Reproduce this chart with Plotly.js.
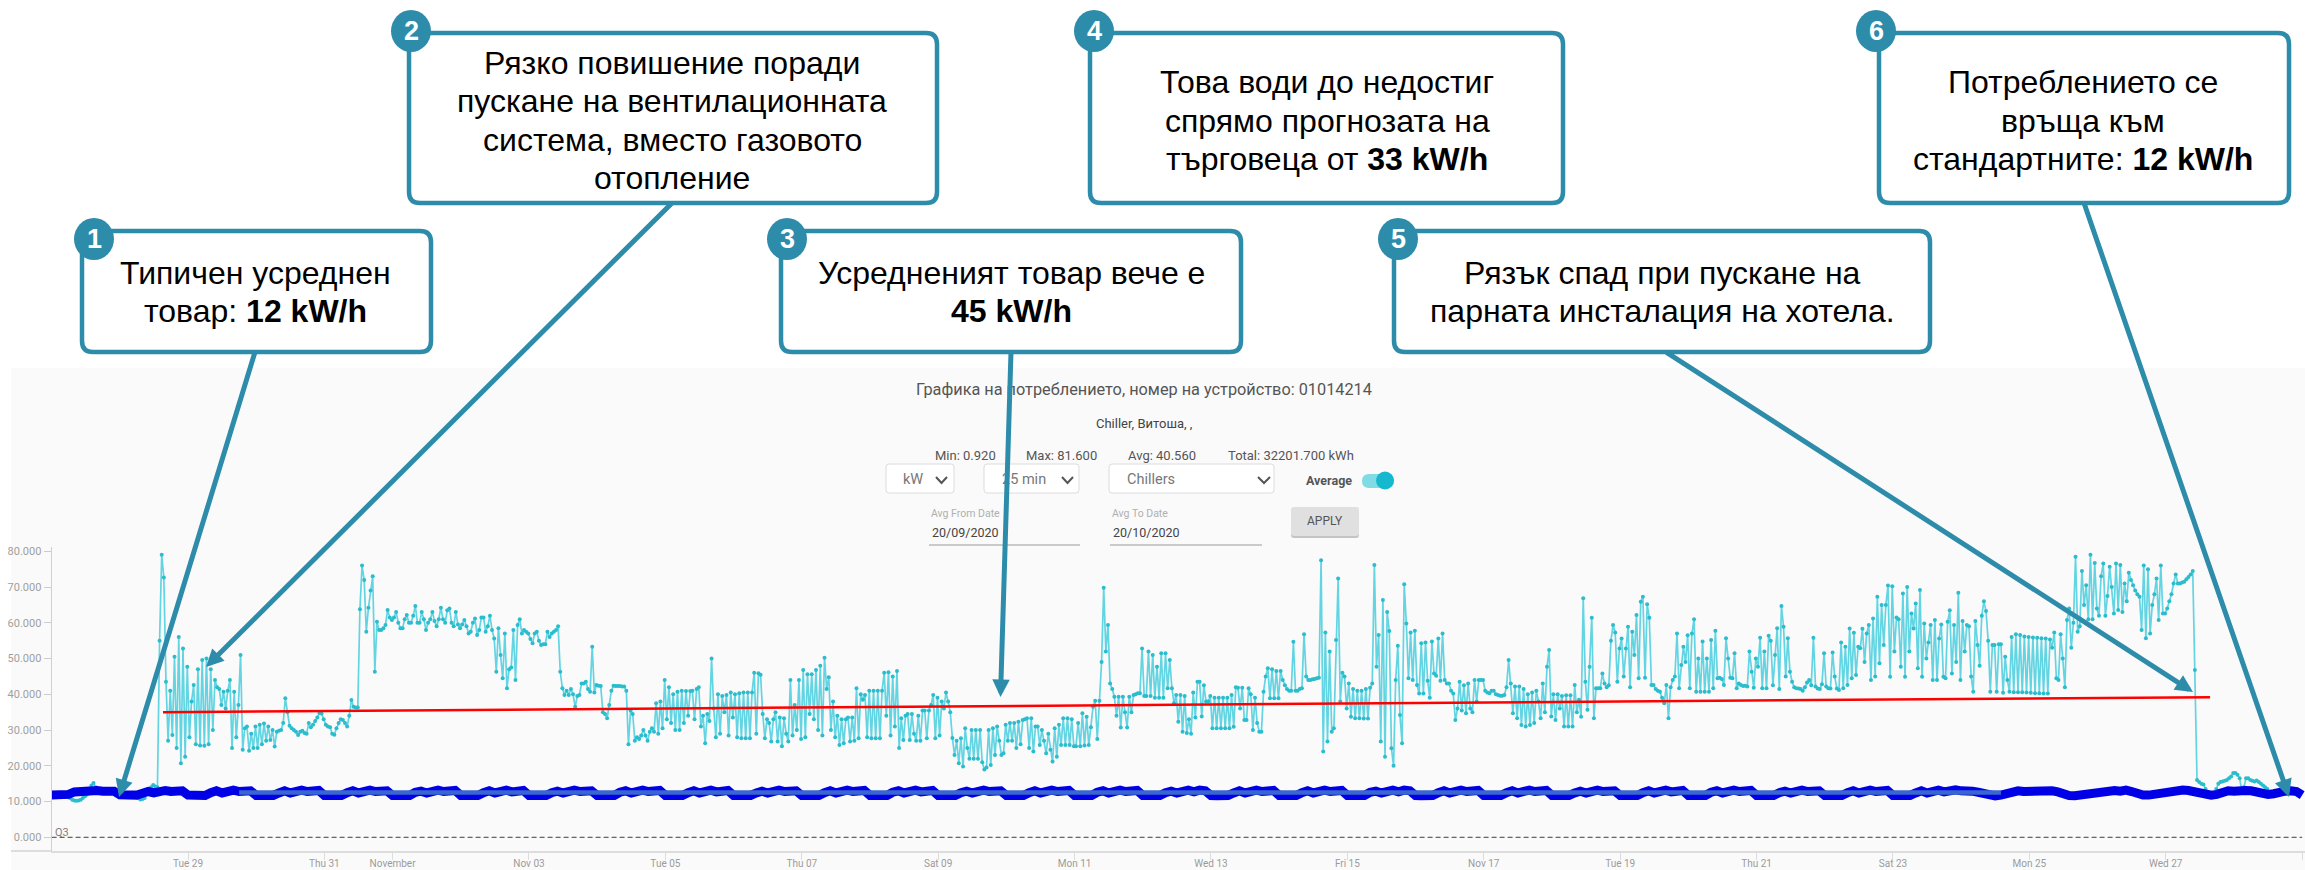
<!DOCTYPE html>
<html><head><meta charset="utf-8">
<script src="https://cdn.plot.ly/plotly-3.0.1.min.js"></script>
<style>html,body{margin:0;padding:0;background:#fff;overflow:hidden}#c{width:2305px;height:870px}</style>
</head><body><div id="c"></div><script>
// ---------- data ----------
const yTicks=[0,10,20,30,40,50,60,70,80];
const xTickDates=['2019-10-29','2019-10-31','2019-11-01','2019-11-03','2019-11-05','2019-11-07','2019-11-09','2019-11-11','2019-11-13','2019-11-15','2019-11-17','2019-11-19','2019-11-21','2019-11-23','2019-11-25','2019-11-27','2019-11-29'];
const xTickLabels=['Tue 29','Thu 31','November','Nov 03','Tue 05','Thu 07','Sat 09','Mon 11','Wed 13','Fri 15','Nov 17','Tue 19','Thu 21','Sat 23','Mon 25','Wed 27','Fri 29'];
const sampleStart='2019-10-26T23:45:00Z';
const sampleMinutes=45;
const cyanEarly=[12,12,12,12,12,12,11.8,11.5,11.2,11,
10.5,10.3,10.2,10.3,10.5,11,11.5,12,13,14.5,
15.2,14,13.5,13,13,13,13,13,12.5,12.5,
12,12,12,11.8,11.8,12,12,12,12,11.8,
11.5,11,10.6,10.7,11,12.5,13,14,14.6,14.2,14];
const cyanPartA=[55,79,72.7,43.5,27,41,28.6,50.5,25,56,20.7,
52.8,22.5,47.7,28,38,42.6,26,47,25.7,49.6,
25.6,50,26,47,30,44,42,41.5,37,40.7,
36,41,44,25,40.7,28,37,51,24.5,30.5,
31,24.2,29,25,31,25,31.5,26,31.8,27,
31,27.2,30,25.4,29.5,29.8,30,32,38.9,35,
31.2,30.5,30,29.5,28.6,29.5,29.8,29.2,29,32,
30.8,31.5,32.5,33.5,34.8,34.6,33,31.5,31,30.8,
29,28.7,30.5,32,33,32.8,32,31,34,38.4,
36.5,36.3,36.3,63.8,76,72,57.5,64.2,69,73,
46.3,60.3,58,58,58.5,59.4,63.6,61.5,60.8,61.5,
63,60,58.5,58.5,61,62.2,60,60,62,64.7,
60,60,63,61,58,60,61,63,60.5,59,
61,64.2,61,60,63.5,64,60,59,63,59.5,
58.5,59.5,60.8,59,57,57.5,60,61.2,56.6,58,
61.5,61.5,57.5,59,62,58,55.6,46.3,58.5,51,
44.5,57,41.7,47,47.5,58,44,59.4,61,57,
58,57.5,57,55.5,54.3,57,57.5,55,53.8,54,
54,57.5,56,57,57.5,58,59,46.3,41.7,39.8];
const cyanPartB=[41,39.8,41.5,40,36.5,39.5,39.8,43,43,43.5,
41.5,40.7,53.3,40.5,42.6,42.4,42.3,35,34.5,33.3,
37,41,42.4,42.3,42.3,42.3,42.2,42.2,41,26,
35.5,34.5,27,28,27.5,28.5,30,28.5,27,29.5,
30.5,29.5,37.5,29,38,30.5,44,33,42,32,
40,30,40.7,30,41,32,40.9,34,40.9,41,
33,41.5,42,31,34,26.3,34.5,32.5,50,36,
28,40,29,39.5,35,39.8,28.5,40.5,33.5,40,
28,40.3,27.7,40.5,27.7,40.5,27.7,40.5,46,29,
45.9,45.5,34.5,27.7,33,32,26.8,33,35,26.8,
33.5,25.5,33.3,29,26.8,44,28.5,37,30,44,
27.5,46.8,28,45.6,34.5,45.6,33,46.8,30,48,
28.5,50.2,41.5,44.8,30,38,28,34,25.8,33,
26.3,33,33.5,26.8,33.5,27,41.7,27.7,40,38.5,
39.8,28,41,27.7,41,27.7,41,27.7,41,46,
34,46.2,28.5,45,31,46.5,25,33.3,27.2,34,
34.5,27.2,34.5,29,27,34,27,35.5,35.5,27.7,
35.5,37,39.8,27.7,39,28.5,38,36,40.5,38,
35,27.8,23,27,20.7,27.7,19.8,30.5,25,22];
const cyanPartC=[30,22,30,22,30,21,19,19.5,30,20.2,
30.5,23,31,27,23,23.5,31.5,27,32,27,
32,25,32.3,26,32.8,33,33.3,25,33.3,24,
31,31,25.8,30,27,23.5,29,24.5,21.2,30.5,
22.5,31.5,25.8,33.3,25.8,33.3,25.8,33,25.5,25.5,
32,25.5,34.7,25.7,33.7,25.8,30.8,36.5,38.2,27.5,
38.2,49,69.8,52,59.4,43,41.5,39.3,34,39.3,
30.7,39.3,35,30.7,39.3,35,39.8,40,40.3,40.3,
52.8,39.5,39.5,52,39.5,51,39,47.7,39,51.5,
39,51.5,41.7,49.6,41.7,37.5,39.8,32.3,39.8,29.5,
39.5,29.2,33,29,40.5,33.5,43.5,43.5,33.8,42.5,
38,38,39.5,30.5,39,30.5,39,30.5,39,30.5,
39,30.5,39.8,30.9,42,41.8,36,41.8,32.8,32.8,
41.7,40,30,39,32,29.5,29.5,40.7,45,47.3,
38.9,47,38.9,46.5,38.9,46.5,44,42.5,41.5,41,
41,54.7,41,41,41.5,41.7,56.8,45,44,44,
44.2,44.3,44.5,44.6,77.5,24,57.3,26.8,52,29.5,
30.5,55.2,72.4,38,46,45,36,43,33.7,41.5,
33.3,41,33.3,41,33.2,41.5,33.2,41.8,43,76.2];
const cyanPartD=[47.7,56.6,26.8,66.4,22.5,63,57.7,24.9,20,44,
53.6,34.2,26.3,70.8,59.8,44.5,57.3,44,57.8,42.6,
40.2,54.3,40.2,54.5,43.8,39,54.8,45.8,45.2,55.6,
43.8,57,44,43,43,41,40.2,32.8,36,43.5,
35.5,42.5,34.7,43,36,35,44,38,44,44,
44,41,40.5,40.3,41,41,40,39.8,39.6,39.6,
39.8,42,49.6,43,34.7,42.2,33.3,42.2,31.4,41.5,
31,40,31.4,40.5,32,41,38,33.3,43,35,
47.7,52.4,33.8,40,32.8,40,36,39.5,31,39.7,
31,39.7,31,42.6,35,38.5,33.7,66.9,43.5,35.7,
47.7,61.4,33.3,41.7,41.7,41.7,45.8,43,42,42.5,
55,59.4,57.3,43.5,52.8,55.6,45,52.8,58.9,42,
57.5,51,62.2,44.5,65.9,67.3,44.6,65.2,61.4,42.6,
42.6,41.5,41,40.7,39,37.5,42.6,33.3,42,44,
45,57,41.7,48.2,53.3,49,56.5,41.7,57,61,
40.7,50,40.7,54.8,40.7,50,40.7,55.2,41.7,57.8,
44.5,44.6,44.3,42.6,55.7,50,44.6,44.5,51.5,41.7,
43,42.6,42.3,42.4,42.2,52,46.3,41.8,50,47.7,
55.8,41.7,52,41.7,56.4,55,42.5,51,58.5,41.5,
64.7,58.9,45,55.7,46.3,43.5,42,41.7,41.6,41.5];
const cyanPartE=[41,42,43.3,44,42.5,55.8,42.2,41.6,41.5,42.8,
51.5,42.2,41.7,41.6,51.7,45,41.6,41.2,54.5,41.7,
53.3,42.6,58.4,44.5,57.2,45.4,53.3,52.9,58.3,49,
57,59.4,44,61.2,45,67.3,48.7,65,53.8,65,
70.4,44.9,70.2,52,61.5,61,47.7,68.2,44.9,70,
52,62.6,58.4,65.4,47.3,69.2,44.9,59.8,50,54.5,
59.4,44,60.8,44,55.6,59.5,44.9,44.5,60.3,63.5,
45.8,59.4,49,68.4,44,60.5,52,59.4,59,45,
40.7,60.5,53.8,48,62,66,63.3,55,40.7,53.8,
53.8,40.7,54,54,40.4,50.5,44,40.7,56,40.6,
56.8,40.6,56.6,40.6,56.2,40.5,56,40.4,55.9,40.3,
55.8,40.3,55.7,40.2,55.6,40.2,55.3,53,57.3,44.5,
44,56.8,50,42,60.8,64,53,60,78.5,57.5,
59,74.5,65,70.5,61,79,61,76.7,64,62,
73,76.6,62,67.5,75.7,70,62.6,76.6,63.6,76.2,
63,71,66,74,72,70.5,69,68,67.3,58,
76,55.7,75,57,65,68,72.4,60.8,76,62.6,
62.6,64,66,68,71,73.5,71,71,71.3,71.5,
72.2,72.8,73.5,74.5,46.8,16];
const cyanTail=[15.5,15,14.8,13.5,12.5,11.5,11.2,12,13.5,15,15.5,15.6,15.8,16,16.5,17,18,18,17.5,16.5,13,14,16.5,16.5,16,15.8,15.6,15.9,15.5,15,14.5,14,13.5,12.5,11.5,11.5,12,12.5,13,13.2,13.5,13.5,13];

const blueStart='2019-10-27T00:00:00Z';
const blueHours=2;
const blueWeek1=[
11.8,11.7,11.8,12,12.7,12.9,13.1,13.2,13.1,12.9,13,12.9,
11.9,11.7,11.6,11.8,12.3,12.8,12.4,13,13.1,12.8,13.2,13,
11.8,11.6,11.6,11.7,12.5,13,12.4,13.1,13.2,12.8,13.2,13,
11.7,11.6,11.6,11.7,12.4,13,12.4,13,13.2,12.8,13.2,13.1,
11.7,11.6,11.6,11.7,12.5,13,12.4,13.1,13.2,12.8,13.2,13,
11.7,11.6,11.6,11.7,12.6,12.9,12.4,13,13.2,12.8,13.2,13.1,
11.7,11.6,11.6,11.7,12.5,13,12.4,13,13.2,12.7,13.2,13.1];
const blueWeek2=[
11.7,11.6,11.6,11.7,12.5,12.9,12.4,13.1,13.2,12.8,13.2,13,
11.7,11.6,11.6,11.7,12.6,13,12.4,13,13.2,12.8,13.2,13.1,
11.7,11.6,11.6,11.7,12.5,13,12.4,13,13.2,12.7,13.2,13.1,
11.7,11.6,11.6,11.7,12.4,12.9,12.4,13.1,13.2,12.8,13.2,13,
11.7,11.6,11.6,11.7,12.5,13,12.4,13,13.2,12.8,13.2,13.1,
11.7,11.6,11.6,11.7,12.6,13,12.4,13,13.2,12.7,13.2,13.1,
11.7,11.6,11.6,11.7,12.5,12.9,12.4,13.1,13.2,12.8,13.2,13];
const blueWeek3=[
11.7,11.6,11.6,11.7,12.5,13,12.4,13,13.2,12.8,13.2,13.1,
11.7,11.6,11.6,11.7,12.6,13,12.4,13,13.2,12.8,13.2,13.1,
11.7,11.6,11.6,11.7,12.5,12.9,12.4,13.1,13.2,12.7,13.2,13,
11.7,11.6,11.6,11.7,12.4,13,12.4,13,13.2,12.8,13.2,13.1,
11.7,11.6,11.6,11.7,12.5,13,12.4,13,13.2,12.8,13.2,13.1,
11.7,11.6,11.6,11.7,12.6,12.9,12.4,13.1,13.2,12.7,13.2,13,
11.7,11.6,11.6,11.7,12.5,13,12.4,13,13.2,12.8,13.2,13.1];
const blueWeek4=[
11.7,11.6,11.6,11.7,12.5,13,12.4,13,13.2,12.8,13.2,13.1,
11.7,11.6,11.6,11.7,12.4,12.9,12.4,13.1,13.2,12.8,13.2,13,
11.7,11.6,11.6,11.7,12.5,13,12.4,13,13.2,12.7,13.2,13.1,
11.7,11.6,11.6,11.7,12.6,13,12.4,13,13.2,12.8,13.2,13.1,
11.7,11.6,11.6,11.7,12.5,12.9,12.4,13.1,13.2,12.8,13.2,13,
11.7,11.6,11.6,11.7,12.5,13,12.4,13,13.2,12.8,13.2,13.1,
11.7,11.6,11.6,11.7,12.4,13,12.4,13,13.2,12.7,13.2,13.3];
const blueWeek5=[
13,13.2,12.9,12.6,12.2,11.7,11.6,11.8,12.3,12.7,13,12.8,
12.9,13.3,13.1,13.2,13,12.7,12,11.7,11.6,11.8,12.6,12.8,
13,12.8,13,13.1,12.9,13.2,12.8,12.2,11.8,11.8,12.1,12.6,
12.9,13.2,12.9,13.2,13.1,12.7,12.1,11.8,11.8,12,12.7,13,
12.9,13.2,13.1,13,12.6,12.2,12,12.2,12.7,12.9,13,12.8,11.8];
const avgFrom='2019-10-29T18:00:00Z', avgTo='2019-11-24T14:00:00Z', avgValue=[12.5,12.5];
const trendFrom='2019-10-28T15:12:00Z', trendTo='2019-11-27T15:36:00Z', trendValue=[35,39.2];
const zeroFrom='2019-10-27T00:00:00Z', zeroTo='2019-11-29T00:00:00Z', zeroValue=[0,0];

const cyanValues=[].concat(cyanEarly,cyanPartA,cyanPartB,cyanPartC,cyanPartD,cyanPartE,cyanTail);
const blueValues=[].concat(blueWeek1,blueWeek2,blueWeek3,blueWeek4,blueWeek5);
const toISO=t=>new Date(t).toISOString().replace('.000Z','').replace('T',' ');
const cyanX=cyanValues.map((v,i)=>toISO(Date.parse(sampleStart)+i*sampleMinutes*60000));
const blueX=blueValues.map((v,i)=>toISO(Date.parse(blueStart)+i*blueHours*3600000));

// ---------- page geometry helpers ----------
const W=2305,H=870;
const px=x=>x/W, py=y=>1-y/H;
const P=(x,y)=>px(x)+','+py(y);
const TEAL='#2e8cab';
function roundRect(x0,y0,x1,y1,r){
 return 'M'+P(x0+r,y0)+' L'+P(x1-r,y0)+' Q'+P(x1,y0)+' '+P(x1,y0+r)+' L'+P(x1,y1-r)+' Q'+P(x1,y1)+' '+P(x1-r,y1)+
  ' L'+P(x0+r,y1)+' Q'+P(x0,y1)+' '+P(x0,y1-r)+' L'+P(x0,y0+r)+' Q'+P(x0,y0)+' '+P(x0+r,y0)+' Z';
}
const base={xref:'paper',yref:'paper'};
const shapes=[];
const rect=(x0,y0,x1,y1,fill,line,lw,layer)=>shapes.push({...base,type:'rect',x0:px(x0),x1:px(x1),y0:py(y0),y1:py(y1),fillcolor:fill,line:{color:line||fill,width:lw===undefined?0:lw},layer:layer||'above'});
const rrect=(x0,y0,x1,y1,r,fill,line,lw)=>shapes.push({...base,type:'path',path:roundRect(x0,y0,x1,y1,r),fillcolor:fill,line:{color:line||fill,width:lw||0},layer:'above'});
const seg=(x0,y0,x1,y1,c,w,layer)=>shapes.push({...base,type:'line',x0:px(x0),x1:px(x1),y0:py(y0),y1:py(y1),line:{color:c,width:w},layer:layer||'above'});
const circ=(cx,cy,rx,ry,fill)=>shapes.push({...base,type:'circle',x0:px(cx-rx),x1:px(cx+rx),y0:py(cy-ry),y1:py(cy+ry),fillcolor:fill,line:{width:0},layer:'above'});
const chevron=(x0,x1,y)=>shapes.push({...base,type:'path',path:'M'+P(x0,y-3)+' L'+P((x0+x1)/2,y+3)+' L'+P(x1,y-3),line:{color:'#555',width:2},layer:'above'});

// chart panel and its axis extension
rect(11,368,W,H,'#fafafa',null,0,'below');
seg(11,851,52,851,'#dddddd',2,'below');

// controls
[[886,464,954,493],[984,464,1079,493],[1109,464,1274,493]].forEach(b=>rrect(b[0],b[1],b[2],b[3],3,'#ffffff','#dcdcdc',1));
chevron(936,947,480);chevron(1062,1073,480);chevron(1258,1270,480);
rrect(1362,474,1394,488,7,'#7fdbe4');circ(1385,480.5,9,9,'#16b8cf');
seg(929,545,1080,545,'#9a9a9a',1);seg(1110,545,1262,545,'#9a9a9a',1);
rrect(1291,510,1359,538,3,'#c4c4c4');rrect(1291,507,1359,536,3,'#e0e0e0');

// callout boxes
const boxes=[[82,231,431,352],[409,33,937,203],[781,231,1241,352],[1090,33,1563,203],[1394,231,1930,352],[1879,33,2289,203]];
const badges=[[94,239],[411,31],[787,239],[1094,31],[1398,239],[1876,31]];
boxes.forEach(b=>rrect(b[0],b[1],b[2],b[3],11,'#ffffff',TEAL,4.5));
badges.forEach(b=>circ(b[0],b[1],20,21,TEAL));

// texts
const RB='Roboto, sans-serif', AR='"Liberation Sans", Arial, sans-serif';
const note=(x,y,text,size,color,family,anchor)=>({xref:'paper',yref:'paper',x:px(x),y:py(y),text,showarrow:false,xanchor:anchor||'center',yanchor:'middle',font:{size,color,family},align:'center'});
const annotations=[
 note(1144,389,'Графика на потреблението, номер на устройство: 01014214',16.3,'#555555',RB),
 note(1144,424,'Chiller, Витоша, ,',13,'#444444',RB),
 note(965,455,'Min: 0.920',13,'#555555',RB),
 note(1061,455,'Max: 81.600',13,'#555555',RB),
 note(1162,455,'Avg: 40.560',13,'#555555',RB),
 note(1291,455,'Total: 32201.700 kWh',13,'#555555',RB),
 note(901,479,'kW',14.5,'#777777',RB,'left'),
 note(1000,479,'25 min',14.5,'#777777',RB,'left'),
 note(1125,479,'Chillers',14.5,'#777777',RB,'left'),
 note(1304,480,'<b>Average</b>',12.5,'#555555',RB,'left'),
 note(929,513,'Avg From Date',10.5,'#b0b0b0',RB,'left'),
 note(1110,513,'Avg To Date',10.5,'#b0b0b0',RB,'left'),
 note(930,532,'20/09/2020',12.5,'#444444',RB,'left'),
 note(1111,532,'20/10/2020',12.5,'#444444',RB,'left'),
 note(1325,521,'APPLY',12,'#555555',RB),
 note(62,832,'Q3',11,'#8a7a7a',RB)
];
const LINE=38.5;
const block=(cx,cy,lines)=>lines.forEach((t,i)=>annotations.push(note(cx,cy+(i-(lines.length-1)/2)*LINE,t,32,'#000000',AR)));
block(255,292,['Типичен усреднен','товар: <b>12 kW/h</b>']);
block(672,120.5,['Рязко повишение поради','пускане на вентилационната','система, вместо газовото','отопление']);
block(1011,292,['Усредненият товар вече е','<b>45 kW/h</b>']);
block(1327,120.5,['Това води до недостиг','спрямо прогнозата на','търговеца от <b>33 kW/h</b>']);
block(1662,292,['Рязък спад при пускане на','парната инсталация на хотела.']);
block(2083,120.5,['Потреблението се','връща към','стандартните: <b>12 kW/h</b>']);
badges.forEach((b,i)=>annotations.push(note(b[0],b[1],'<b>'+(i+1)+'</b>',27,'#ffffff',AR)));
const arrows=[[255,352,119,797],[672,203,206,667],[1011,352,1000.5,697],[1666,352,2193,692],[2084,203,2289,797]];
arrows.forEach(a=>annotations.push({xref:'paper',yref:'paper',x:px(a[2]),y:py(a[3]),ax:a[0]-a[2],ay:a[1]-a[3],axref:'pixel',ayref:'pixel',text:' ',font:{size:1},borderpad:0,showarrow:true,arrowhead:2,arrowsize:0.7,arrowwidth:5,arrowcolor:TEAL}));

const traces=[
 {type:'scatter',mode:'lines+markers',x:cyanX,y:cyanValues,line:{color:'#62d4e2',width:1.7},marker:{color:'#2bbccd',size:4},hoverinfo:'skip'},
 {type:'scatter',mode:'lines',x:blueX,y:blueValues,line:{color:'#0000e6',width:9},hoverinfo:'skip'},
 {type:'scatter',mode:'lines',x:[avgFrom,avgTo],y:avgValue,line:{color:'#3a66cf',width:4.5},hoverinfo:'skip'},
 {type:'scatter',mode:'lines',x:[trendFrom,trendTo],y:trendValue,line:{color:'#ff0000',width:2.5},hoverinfo:'skip'},
 {type:'scatter',mode:'lines',x:[zeroFrom,zeroTo],y:zeroValue,line:{color:'#666666',width:1.2,dash:'5px,3px'},hoverinfo:'skip'}
];
const layout={
 width:W,height:H,margin:{l:0,r:0,t:0,b:0,pad:0},showlegend:false,
 paper_bgcolor:'#ffffff',plot_bgcolor:'rgba(0,0,0,0)',
 xaxis:{type:'date',domain:[51.6/W,1],range:['2019-10-27 00:00','2019-11-29 01:00'],tickmode:'array',tickvals:xTickDates,ticktext:xTickLabels,
  ticks:'outside',ticklen:7,tickcolor:'#dddddd',showline:true,linecolor:'#dddddd',linewidth:2,showgrid:false,zeroline:false,ticklabelstandoff:-5,
  tickfont:{family:RB,size:10,color:'#9a9a9a'},automargin:false,tickangle:0},
 yaxis:{domain:[(H-851)/H,(H-547)/H],range:[-3.83,81.2],tickmode:'array',tickvals:yTicks,tickformat:'.3f',
  ticks:'outside',ticklen:7,tickcolor:'#cccccc',showline:true,linecolor:'#d0d0d0',linewidth:1,showgrid:false,zeroline:false,
  tickfont:{family:RB,size:11,color:'#a0a0a0'},automargin:false},
 shapes,annotations
};
Plotly.newPlot('c',traces,layout,{displayModeBar:false,staticPlot:true});
</script></body></html>
